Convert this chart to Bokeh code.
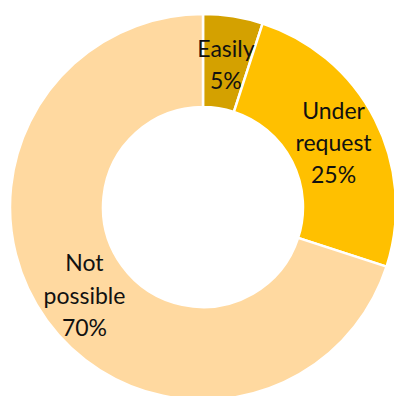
import numpy as np
from bokeh.plotting import figure
from bokeh.models import Range1d, ColumnDataSource
from bokeh.core.properties import value
from bokeh.embed import file_html
from bokeh.resources import INLINE

categories = ["Easily", "Under request", "Not possible"]
label_lines = ["Easily", "Under\nrequest", "Not\npossible"]
shares = [5, 25, 70]
colors = ["#D4A100", "#FFC000", "#FFD9A0"]

W, H = 394, 396
cx, cy = 202.5, H - 206.5
r_in, r_out = 100, 193

frac = np.array(shares) / sum(shares)
ends = np.cumsum(frac)
starts = ends - frac
# clockwise from top
start_ang = np.pi / 2 - starts * 2 * np.pi
end_ang = np.pi / 2 - ends * 2 * np.pi
mid = (start_ang + end_ang) / 2
r_mid = (r_in + r_out) / 2

src = ColumnDataSource(dict(
    start=start_ang, end=end_ang, color=colors,
    lx=cx + r_mid * np.cos(mid), ly=cy + r_mid * np.sin(mid) - 1.5,
    label=[f"{l}\n{s}%" for l, s in zip(label_lines, shares)],
))

p = figure(width=W, height=H, output_backend="svg", toolbar_location=None,
           x_range=Range1d(0, W), y_range=Range1d(0, H), min_border=0)
p.axis.visible = False
p.grid.visible = False
p.outline_line_color = None

p.annular_wedge(x=cx, y=cy, inner_radius=r_in, outer_radius=r_out,
                start_angle="end", end_angle="start", direction="anticlock",
                fill_color="color", line_color="white", line_width=2.5, source=src)

p.text(x="lx", y="ly", text="label", source=src, text_align="center",
       text_baseline="middle", text_font=value("Lato"), text_font_size="23px",
       text_color="#111111", text_line_height=1.15)

open("out.html", "w").write(file_html(p, INLINE))
